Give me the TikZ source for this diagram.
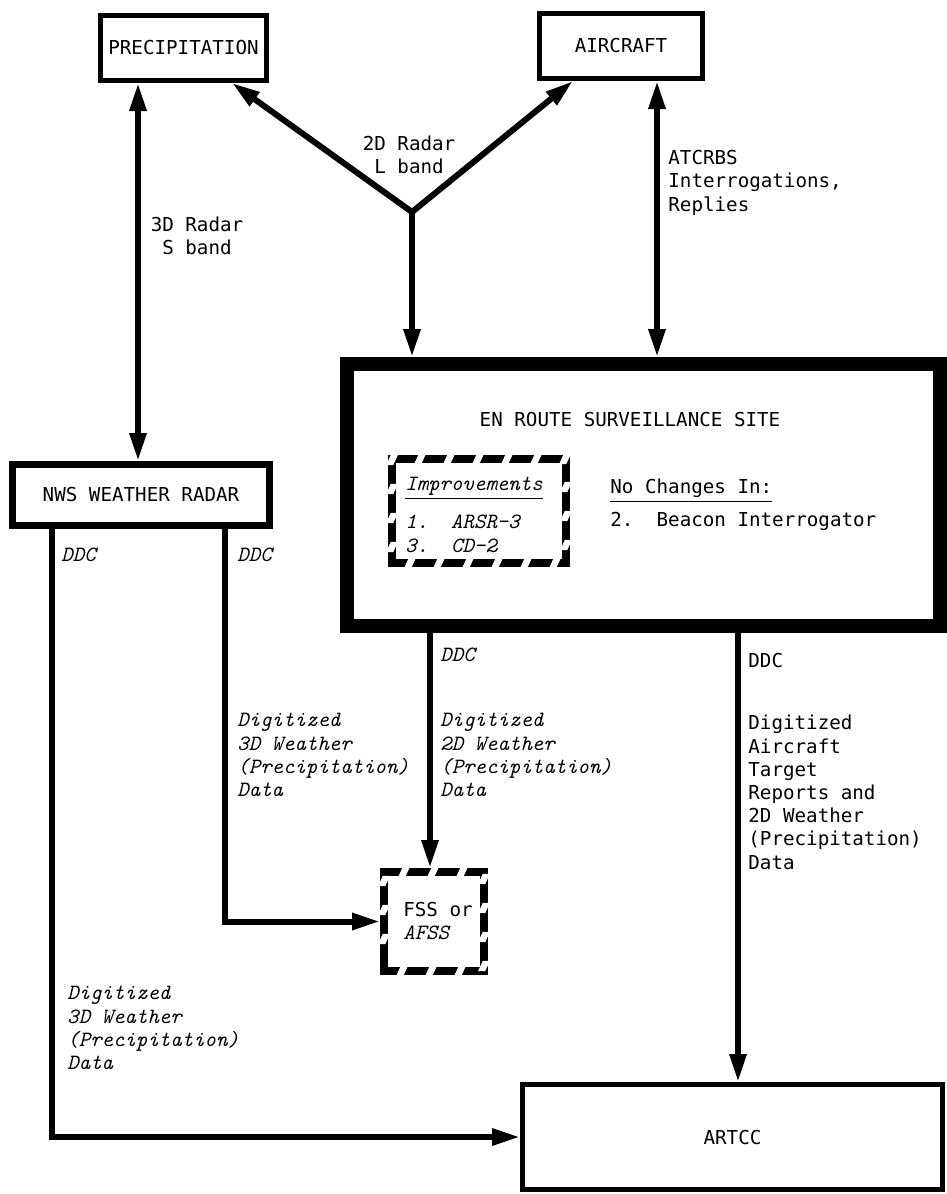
\documentclass[tikz,border=0pt]{standalone}
\usepackage{fontspec}
\setmainfont{DejaVu Sans Mono}
\usetikzlibrary{arrows.meta,positioning,calc,decorations.markings}

\tikzset{
  box/.style={draw, line width=2.5pt, inner sep=0pt},
  tapegap/.pic={\fill[white] (-3.0pt,-2.6pt) -- (0.6pt,-2.6pt) -- (3.0pt,2.6pt) -- (-0.6pt,2.6pt) -- cycle;},
  tape/.style={draw, line width=4pt, inner sep=0pt,
    postaction={decorate, decoration={markings,
      mark=between positions 9pt and -7pt step 14.5pt with {\pic {tapegap};}}}},
  sig/.style={line width=3pt, -{Triangle[length=14pt,width=8pt]}},
  sigboth/.style={line width=3pt, {Triangle[length=14pt,width=8pt]}-{Triangle[length=14pt,width=8pt]}},
  lbl/.style={align=left, inner sep=0pt, anchor=north west},
  itlbl/.style={lbl, font=\ttfamily\itshape\fontsize{10.9}{11.6}\selectfont},
}

\begin{document}
\begin{tikzpicture}[x=0.5pt,y=-0.5pt,font=\fontsize{9.6}{11.6}\selectfont]
  \useasboundingbox (0,0) rectangle (947,1194);
  % sources
  \node[box, minimum width=83pt, minimum height=32.5pt] (prec) at (183.5,48) {PRECIPITATION};
  \node[box, minimum width=81.5pt, minimum height=32.5pt] (air) at (621,46) {AIRCRAFT};
  \coordinate (fork) at (412,212);
  % radar and site
  \node[box, line width=3.5pt, minimum width=128.5pt, minimum height=30.5pt] (nws) at (141,495) {NWS WEATHER RADAR};
  \node[draw, line width=7pt, minimum width=296.5pt, minimum height=131pt] (site) at (643.5,495) {};
  \node (title) at (630,420) {EN ROUTE SURVEILLANCE SITE};
  \node[tape, minimum width=87pt, minimum height=52pt] (impr) at (479,511) {};
  \node[itlbl] (imphead) at (405,477) {\underline{Improvements}};
  \node[itlbl] (impitems) at (405,515) {1.\ \ ARSR-3\\3.\ \ CD-2};
  \node[lbl] (nochg) at (610,479) {\underline{No Changes In:}};
  \node[lbl] (beacon) at (610,512) {2.\ \ Beacon Interrogator};
  % users
  \node[tape, minimum width=50pt, minimum height=49.5pt] (fss) at (434,921.5) {};
  \node[align=left] (fsstext) at (438,921) {FSS or\\{\ttfamily\itshape\fontsize{10.9}{11.6}\selectfont AFSS}};
  \node[box, minimum width=210pt, minimum height=52.5pt] (artcc) at (732.5,1137) {ARTCC};

  % radar links
  \draw[sig] (fork) -- ([xshift=-18.5pt]prec.south east);
  \draw[sig] (fork) -- ([xshift=18pt]air.south west);
  \draw[sig] (fork) -- (fork |- site.north);
  \draw[sigboth] ([xshift=18pt]air.south) -- ([xshift=18pt]air.south |- site.north);
  \draw[sigboth] ([xshift=-22.75pt]prec.south) -- ([xshift=-22.75pt]prec.south |- nws.north);
  \node[align=center] (sband) at (197,236) {3D Radar\\S band};
  \node[align=center] (lband) at (409,155) {2D Radar\\L band};
  \node[lbl] (atcrbs) at (668,150) {ATCRBS\\Interrogations,\\Replies};

  % data links
  \draw[sig] ([xshift=21.5pt]nws.south west) |- (artcc.west);
  \draw[sig] ([xshift=108pt]nws.south west) |- (fss.west);
  \draw[sig] ([xshift=-2pt]fss.north |- site.south) -- ([xshift=-2pt]fss.north);
  \draw[sig] ([xshift=2.75pt]artcc.north |- site.south) -- ([xshift=2.75pt]artcc.north);
  \node[itlbl] (ddcl) at (61,548) {DDC};
  \node[itlbl] (ddcm) at (237,548) {DDC};
  \node[itlbl] (wx3dm) at (237,713) {Digitized\\3D Weather\\(Precipitation)\\Data};
  \node[itlbl] (wx3dl) at (67,986) {Digitized\\3D Weather\\(Precipitation)\\Data};
  \node[itlbl] (ddcs) at (440,648) {DDC};
  \node[itlbl] (wx2d) at (440,713) {Digitized\\2D Weather\\(Precipitation)\\Data};
  \node[lbl] (ddcr) at (748,653) {DDC};
  \node[lbl] (targets) at (748,715) {Digitized\\Aircraft\\Target\\Reports and\\2D Weather\\(Precipitation)\\Data};
\end{tikzpicture}
\end{document}
